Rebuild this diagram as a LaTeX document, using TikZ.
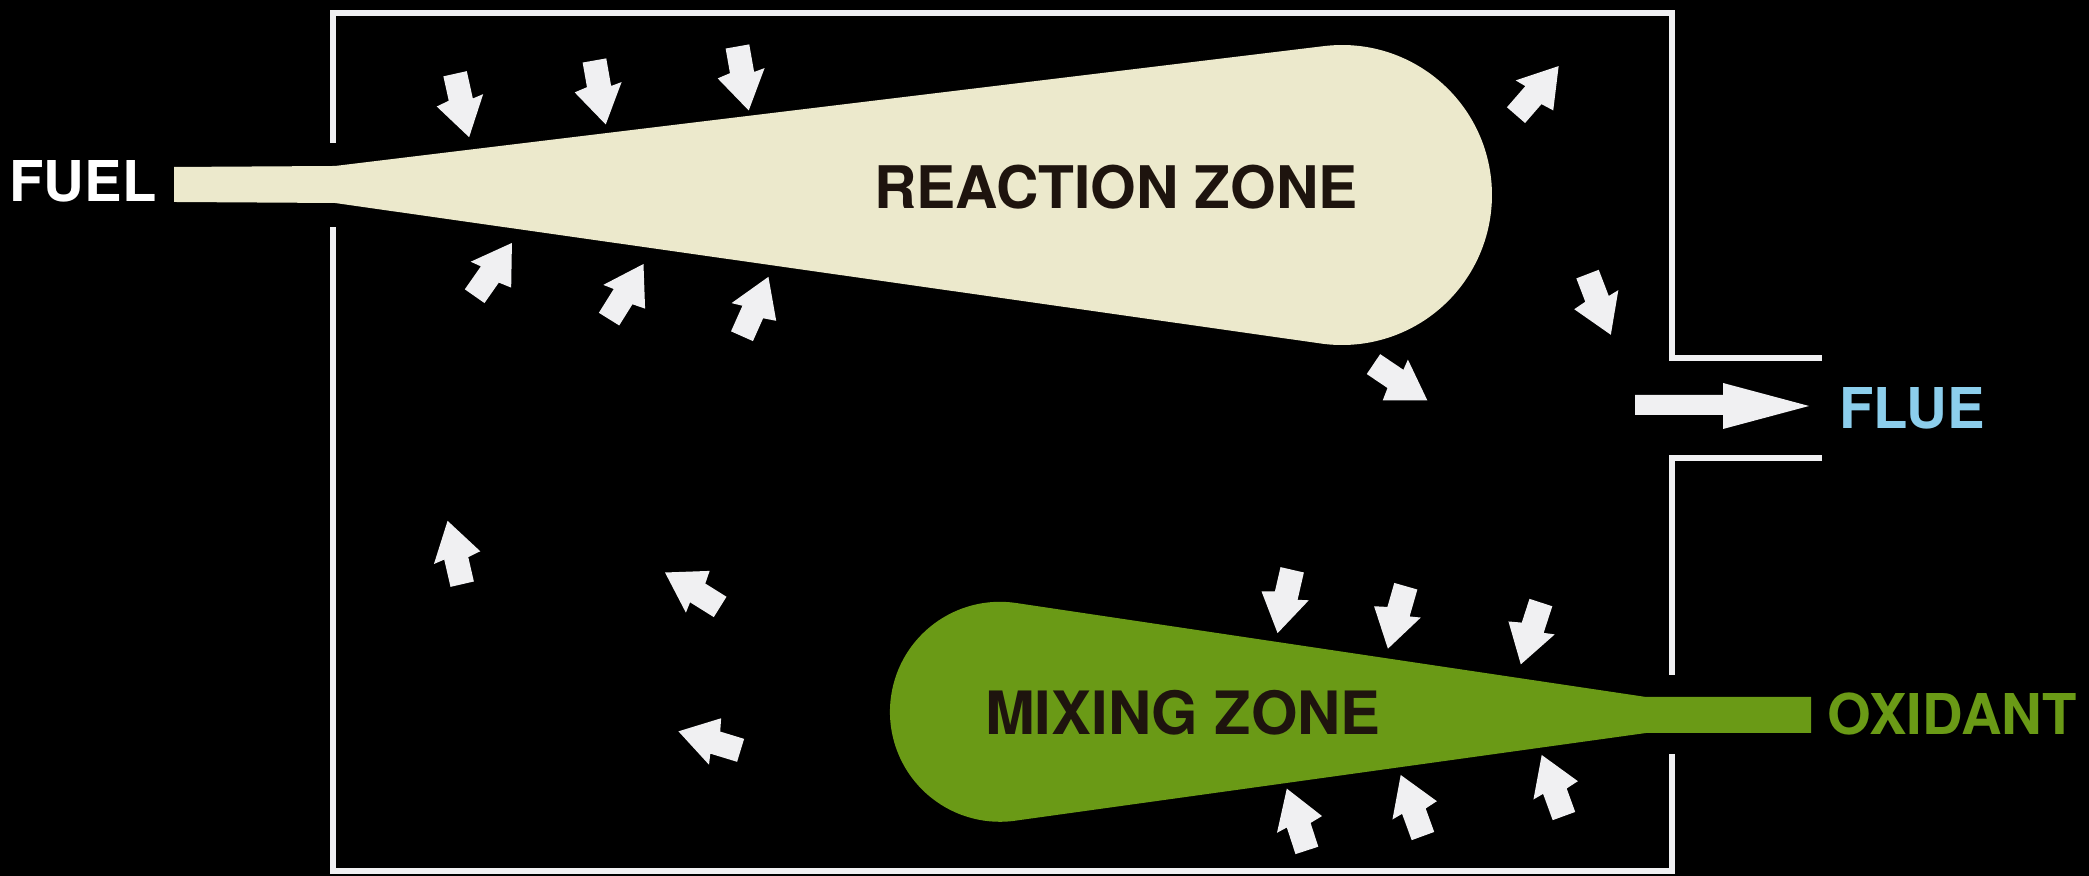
\documentclass[tikz,border=0pt]{standalone}
\usepackage{fontspec}
\setmainfont{TeX Gyre Heros}
\usetikzlibrary{positioning}

\definecolor{flame}{RGB}{236,233,204}
\definecolor{mixgreen}{RGB}{106,154,22}
\definecolor{fluecol}{RGB}{140,206,236}
\definecolor{zonetext}{RGB}{30,20,14}
\definecolor{offwhite}{RGB}{240,240,242}

\begin{document}
\begin{tikzpicture}[
    wall/.style={draw=offwhite, line width=1.8pt},
    lbl/.style={inner sep=0pt, font=\fontsize{16}{18}\selectfont\bfseries},
    gasarrow/.pic={\fill[offwhite] (-0.32,-0.12) -- (-0.32,0.12) -- (-0.04,0.12)
        -- (-0.06,0.23) -- (0.33,0) -- (-0.04,-0.25) -- (-0.07,-0.12) -- cycle;}]

\fill[black] (0,0) rectangle (20.89,-8.76);
\useasboundingbox (0,0) rectangle (20.89,-8.76);

% combustion chamber walls
\draw[wall] (3.33,-1.43) -- (3.33,-0.13) -- (16.72,-0.13) -- (16.72,-3.58) -- (18.22,-3.58);
\draw[wall] (18.22,-4.58) -- (16.72,-4.58) -- (16.72,-6.75);
\draw[wall] (16.72,-7.54) -- (16.72,-8.71) -- (3.33,-8.71) -- (3.33,-2.27);

% reaction zone
\fill[flame] (1.74,-1.67) -- (3.35,-1.66) -- (13.25,-0.46)
    arc[start angle=96.5, end angle=-97.6, radius=1.5]
    -- (3.35,-2.03) -- (1.74,-2.02) -- cycle;

% mixing zone
\fill[mixgreen] (18.11,-6.97) -- (16.46,-6.97) -- (10.16,-6.03)
    arc[start angle=81.6, end angle=279.5, radius=1.1]
    -- (16.46,-7.33) -- (18.11,-7.33) -- cycle;

% flue exit
\fill[offwhite] (16.35,-3.95) -- (17.23,-3.95) -- (17.23,-3.83) -- (18.09,-4.06)
    -- (17.23,-4.29) -- (17.23,-4.15) -- (16.35,-4.15) -- cycle;

\node[lbl, white]    (fuel)     at (0.83,-1.81)  {FUEL};
\node[lbl, zonetext, font=\fontsize{16.7}{18}\selectfont\bfseries]
                     (reaction) at (11.16,-1.87) {REACTION ZONE};
\node[lbl, fluecol]  (flue)     at (19.12,-4.08) {FLUE};
\node[lbl, zonetext, font=\fontsize{17}{18}\selectfont\bfseries]
                     (mixing)   at (11.83,-7.13) {MIXING ZONE};
\node[lbl, mixgreen] (oxidant)  at (19.52,-7.14) {OXIDANT};

% recirculating gas
\pic[rotate=-77.5] at (4.62,-1.05) {gasarrow};
\pic[rotate=-80]   at (6.00,-0.92) {gasarrow};
\pic[rotate=-80]   at (7.43,-0.78) {gasarrow};
\pic[rotate=55]    at (4.93,-2.70) {gasarrow};
\pic[rotate=58]    at (6.26,-2.92) {gasarrow};
\pic[rotate=66]    at (7.55,-3.07) {gasarrow};
\pic[rotate=49]    at (15.37,-0.91) {gasarrow};
\pic[rotate=-69]   at (15.99,-3.04) {gasarrow};
\pic[rotate=-34]   at (14.00,-3.82) {gasarrow};
\pic[rotate=103]   at (4.55,-5.53) {gasarrow};
\pic[rotate=148]   at (6.93,-5.90) {gasarrow};
\pic[rotate=163]   at (7.10,-7.41) {gasarrow};
\pic[rotate=-103]  at (12.85,-6.01) {gasarrow};
\pic[rotate=-106]  at (13.97,-6.17) {gasarrow};
\pic[rotate=-108]  at (15.31,-6.33) {gasarrow};
\pic[rotate=108]   at (12.97,-8.20) {gasarrow};
\pic[rotate=110]   at (14.12,-8.06) {gasarrow};
\pic[rotate=110]   at (15.53,-7.86) {gasarrow};

\end{tikzpicture}
\end{document}
